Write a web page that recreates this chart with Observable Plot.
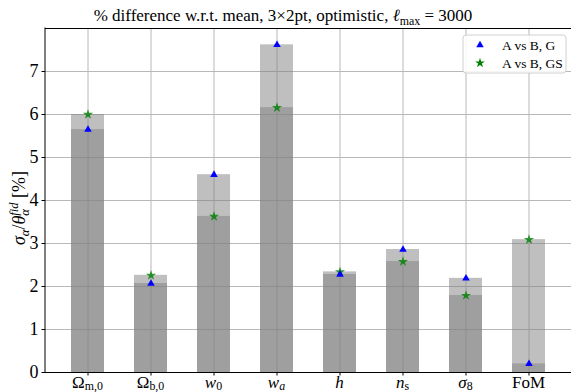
<!DOCTYPE html>
<html>
<head>
<meta charset="utf-8">
<script src="https://cdn.jsdelivr.net/npm/d3@7"></script>
<script src="https://cdn.jsdelivr.net/npm/@observablehq/plot@0.6"></script>
<style>
  html, body { margin: 0; padding: 0; background: white; }
  svg { display: block; }
  svg text { font-family: "Liberation Serif", "Times New Roman", "DejaVu Serif", serif !important; }
</style>
</head>
<body>
<div id="chart"></div>
<script>
// ---- data ----
const categories = ["Ωm,0", "Ωb,0", "w0", "wa", "h", "ns", "σ8", "FoM"];
const valuesG  = [5.65, 2.07, 4.60, 7.62, 2.28, 2.86, 2.19, 0.20];   // A vs B, G  (blue triangles)
const valuesGS = [6.00, 2.26, 3.63, 6.16, 2.34, 2.58, 1.79, 3.09];   // A vs B, GS (green stars)
const yTicks = [0, 1, 2, 3, 4, 5, 6, 7];
const seriesNames = ["A vs B, G", "A vs B, GS"];
// rich tick labels: parts {t, sub, sup, i}
const tickLabels = [
  [{t: "Ω"}, {t: "m,0", sub: true}],
  [{t: "Ω"}, {t: "b,0", sub: true}],
  [{t: "w", i: true}, {t: "0", sub: true}],
  [{t: "w", i: true}, {t: "a", sub: true, i: true}],
  [{t: "h", i: true}],
  [{t: "n", i: true}, {t: "s", sub: true}],
  [{t: "σ", i: true}, {t: "8", sub: true}],
  [{t: "FoM"}]
];
const titleParts = [{t: "% difference w.r.t. mean, 3×2pt, optimistic, "}, {t: "ℓ", i: true}, {t: "max", sub: true}, {t: " = 3000"}];
const yLabelParts = [{t: "σ", i: true}, {t: "α", sub: true, i: true}, {t: "/"}, {t: "θ", i: true}, {t: "α", sub: true, i: true}, {t: "fid", sup: true, i: true, back: true}, {t: " [%]"}];

const data = categories.map((c, k) => ({cat: c, G: valuesG[k], GS: valuesGS[k]}));

const W = 571, H = 392, ML = 45, MR = 0, MT = 28, MB = 20;
const serif = "Liberation Serif, Times New Roman, DejaVu Serif, serif";

const plot = Plot.plot({
  width: W, height: H,
  marginLeft: ML, marginRight: MR, marginTop: MT, marginBottom: MB,
  style: {fontFamily: serif, fontSize: "18px", background: "white", color: "black"},
  x: {type: "band", domain: categories, paddingInner: 0.477, paddingOuter: 0.355, align: 0.5, label: null},
  y: {domain: [0, 8], ticks: yTicks, label: null},
  marks: [
    Plot.gridX({stroke: "#b8b8b8", strokeOpacity: 1, strokeWidth: 1}),
    Plot.gridY({ticks: yTicks, stroke: "#b8b8b8", strokeOpacity: 1, strokeWidth: 1}),
    Plot.barY(data, {x: "cat", y: "G", fill: "gray", fillOpacity: 0.5}),
    Plot.barY(data, {x: "cat", y: "GS", fill: "gray", fillOpacity: 0.5}),
    Plot.dot(data, {x: "cat", y: "GS", symbol: "star", fill: "green", fillOpacity: 0.8, stroke: "none", r: 3.2}),
    Plot.dot(data, {x: "cat", y: "G", symbol: "triangle", fill: "blue", stroke: "none", r: 2.8}),
    Plot.axisY({ticks: yTicks, tickSize: 3.5, tickPadding: 3.5, fontSize: 18, label: null}),
    Plot.axisX({tickSize: 3.5, tickFormat: () => "", label: null}),
    Plot.ruleY([0, 8], {stroke: "black", strokeWidth: 1})
  ]
});
document.getElementById("chart").appendChild(plot);

const svg = d3.select(plot);

function rich(sel, parts, size, subShift = 0.22) {
  let shift = 0;
  let prev = null;
  parts.forEach((p) => {
    const ts = sel.append("tspan").text(p.t);
    let target = 0;
    if (p.sub) target = size * subShift;
    if (p.sup) target = -size * 0.4;
    if (p.sub || p.sup) ts.attr("font-size", size * 0.7);
    if (p.i) ts.attr("font-style", "italic");
    if (p.back && prev) ts.attr("dx", -prev.node().getComputedTextLength());
    if (target - shift !== 0) ts.attr("dy", target - shift);
    shift = target;
    prev = ts;
  });
}

// left spine
const yS = plot.scale("y");
svg.append("line").attr("x1", ML).attr("x2", ML)
  .attr("y1", yS.apply(0) + 0.5).attr("y2", yS.apply(8) - 0.5)
  .attr("stroke", "black").attr("stroke-width", 1);

// x tick labels
const xS = plot.scale("x");
const bw = xS.bandwidth || 0;
categories.forEach((c, k) => {
  const t = svg.append("text")
    .attr("x", xS.apply(c) + bw / 2)
    .attr("y", 387.5)
    .attr("text-anchor", "middle")
    .attr("font-family", serif)
    .attr("font-size", 17)
    .attr("fill", "black");
  rich(t, tickLabels[k], 17, 0.13);
});

// title
const tt = svg.append("text").attr("x", 283).attr("y", 21)
  .attr("text-anchor", "middle").attr("font-family", serif).attr("font-size", 17).attr("fill", "black");
rich(tt, titleParts, 17);

// y label
const yl = svg.append("text").attr("transform", "translate(25,208) rotate(-90)")
  .attr("text-anchor", "middle").attr("font-family", serif).attr("font-size", 18).attr("fill", "black");
rich(yl, yLabelParts, 18);

// legend
const lg = svg.append("g").attr("font-family", serif).attr("font-size", 13.5).attr("text-anchor", "start");
lg.append("rect").attr("x", 463).attr("y", 35).attr("width", 103).attr("height", 38).attr("rx", 3)
  .attr("fill", "white").attr("fill-opacity", 0.85).attr("stroke", "#d0d0d0");
const syms = [{type: d3.symbolTriangle, fill: "blue"}, {type: d3.symbolStar, fill: "green"}];
seriesNames.forEach((name, k) => {
  const yy = 45 + k * 18;
  lg.append("path").attr("d", d3.symbol(syms[k].type, k === 0 ? 24 : 30)())
    .attr("transform", `translate(480,${yy})`).attr("fill", syms[k].fill);
  lg.append("text").attr("x", 502).attr("y", yy + 4.5).attr("fill", "black")
    .attr("text-anchor", "start").text(name);
});
</script>
</body>
</html>
